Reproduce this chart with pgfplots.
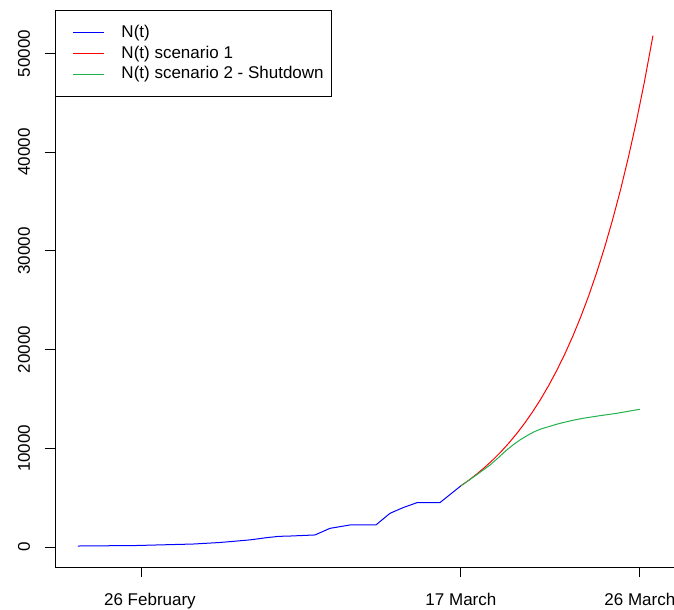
\documentclass[border=0pt]{standalone}
\usepackage{fontspec}
\setmainfont{Liberation Sans}
\usepackage{pgfplots}
\pgfplotsset{compat=1.18}

\definecolor{nblue}{RGB}{0,0,255}
\definecolor{nred}{RGB}{255,0,0}
\definecolor{ngreen}{RGB}{34,177,76}

\newcommand{\rfont}{\fontsize{17bp}{20bp}\selectfont}

\begin{document}
\begin{tikzpicture}
\useasboundingbox (-55bp,-43bp) rectangle (619bp,567bp);
\begin{axis}[
    scale only axis,
    width=619bp, height=557bp,
    xmin=-5.45, xmax=33.36,
    ymin=-2026, ymax=54400,
    axis x line=bottom, axis y line=left,
    axis line style={-, black, line width=1bp},
    tick align=outside,
    major tick length=10bp,
    tick style={black, line width=1bp},
    xtick={0,20,31.22},
    xticklabels={\kern16bp 26 February,17 March,26 March},
    ytick={0,10000,20000,30000,40000,50000},
    scaled y ticks=false,
    /pgf/number format/.cd, 1000 sep={}, assume math mode=true,
    /pgfplots/.cd,
    xticklabel style={anchor=base, inner sep=0pt, font=\rfont},
    yticklabel style={rotate=90, anchor=base, inner sep=0pt, font=\rfont},
    xticklabel shift=28bp,
    yticklabel shift=15bp,
    legend cell align=left,
    legend style={at={(0,1)}, anchor=north west, draw=black, line width=1bp,
        fill=white, inner xsep=8bp, inner ysep=14bp, row sep=3.7bp, column sep=17bp,
        nodes={inner sep=0pt, text height=13bp, text depth=4bp, anchor=west},
        font=\rfont},
    legend image code/.code={\path (0bp,0bp); \draw[#1, line width=1bp] (9bp,0bp) -- (40bp,0bp);},
]
% observed cases
\addplot[nblue, line width=1bp] coordinates {
    (-4.01,100) (-0.38,150) (3.20,300) (4.83,450) (5.71,570) (6.77,720)
    (7.84,950) (8.59,1080) (9.28,1110) (10.85,1220) (11.79,1890) (13.04,2230)
    (14.67,2230) (15.55,3410) (16.36,3980) (17.24,4490) (18.68,4490) (20.0,6200)
};
\addlegendentry{N(t)}
% scenario 1
\addplot[nred, line width=1bp] coordinates {
    (20.0,6200) (20.5,6770) (21.0,7400) (21.5,8080) (22.0,8820) (22.5,9630)
    (23.0,10520) (23.5,11490) (24.0,12550) (24.5,13710) (25.0,14970)
    (25.5,16350) (26.0,17860) (26.5,19500) (27.0,21300) (27.5,23260)
    (28.0,25400) (28.5,27750) (29.0,30300) (29.5,33100) (30.0,36140)
    (30.5,39480) (31.0,43110) (31.5,47090) (32.04,51800)
};
\addlegendentry{N(t) scenario 1}
% scenario 2
\addplot[ngreen, line width=1bp] coordinates {
    (20.0,6200) (20.5,6760) (21.0,7330) (21.5,7920) (21.82,8300) (22.3,8980)
    (22.87,9830) (23.3,10380) (23.7,10840) (24.2,11330) (24.6,11680)
    (25.0,11950) (25.58,12230) (26.1,12480) (26.63,12690) (27.15,12880)
    (27.67,13040) (28.7,13300) (29.76,13540) (30.5,13750) (31.22,13950)
};
\addlegendentry{N(t) scenario 2 - Shutdown}
\end{axis}
\end{tikzpicture}
\end{document}
